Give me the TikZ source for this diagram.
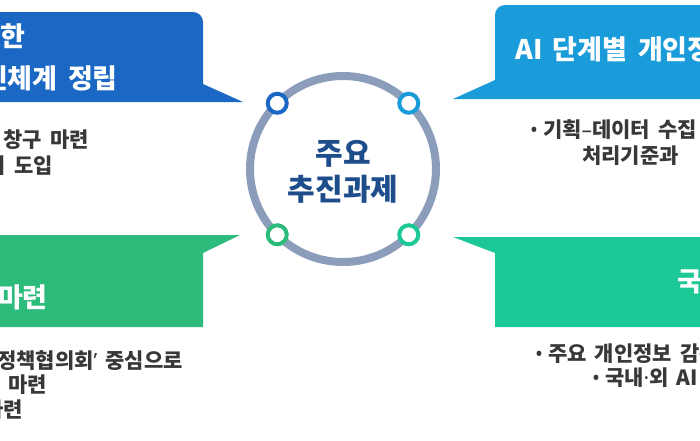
\documentclass[tikz,border=0pt]{standalone}
\usepackage{fontspec}
\newfontfamily\kr[WordSpace=1.3]{Noto Sans CJK KR}
\newfontfamily\krt[WordSpace=1.7]{Noto Sans CJK KR}
\newfontfamily\lat{Noto Sans}
\definecolor{cA}{HTML}{1A68C4}
\definecolor{cB}{HTML}{1A9BDA}
\definecolor{cC}{HTML}{2CBB7A}
\definecolor{cD}{HTML}{1CC996}
\definecolor{ring}{HTML}{8B9DBA}
\definecolor{hubtext}{HTML}{1E4D8C}
\definecolor{body}{HTML}{383838}
\newcommand{\bul}{{\lat\bfseries •}\hspace{5pt}}
\tikzset{
  title/.style={font=\krt\bfseries\fontsize{27}{31}\selectfont, text=white, inner sep=0},
  item/.style={font=\kr\bfseries\fontsize{21}{25}\selectfont, text=body, inner sep=0},
  hubfont/.style={font=\kr\bfseries\fontsize{30}{35}\selectfont, text=hubtext, inner sep=0},
  dot/.style={circle, line width=4, fill=white, minimum size=19, inner sep=0}
}
\begin{document}
\begin{tikzpicture}[x=1pt,y=-1pt]
\useasboundingbox (0,0) rectangle (700,440);
\clip (0,0) rectangle (700,440);
\fill[white] (0,0) rectangle (700,440);
% boxes
\fill[cA] (-5,102) -- (-5,12) -- (193,12) arc[start angle=-90,end angle=0,radius=10] -- (203,84) -- (243,102) -- cycle;
\fill[cB] (705,99) -- (705,5) -- (505,5) arc[start angle=270,end angle=180,radius=10] -- (495,80) -- (453,99) -- cycle;
\fill[cC] (-5,235) -- (240,235) -- (203,253) -- (203,327) -- (-5,327) -- cycle;
\fill[cD] (705,237) -- (453,237) -- (495,253) -- (495,327) -- (705,327) -- cycle;
% hub
\node[circle, draw=ring, line width=8, minimum size=186, inner sep=0, outer sep=0] (hub) at (343,169) {};
\node[hubfont, anchor=base] (h1) at (343,164) {주요};
\node[hubfont, anchor=base] (h2) at (343,200) {추진과제};
\node[dot, draw=cA] (d1) at (hub.135) {};
\node[dot, draw=cB] (d2) at (hub.45) {};
\node[dot, draw=cC] (d3) at (hub.225) {};
\node[dot, draw=cD] (d4) at (hub.315) {};
% top-left
\node[title, anchor=base west] (t1a) at (0,46) {한};
\node[title, anchor=base east] (t1b) at (118,88) {인체계 정립};
\node[item, anchor=base east] (i1a) at (89,147) {창구 마련};
\node[item, anchor=base east] (i1b) at (53,173) {지 도입};
% top-right
\node[title, anchor=base west] (t2) at (515,59) {AI 단계별 개인정보};
\node[item, anchor=base west] (i2a) at (530,137) {\bul 기획{\lat\bfseries –}데이터 수집};
\node[item, anchor=base west] (i2b) at (582,163) {처리기준과};
% bottom-left
\node[title, anchor=base east] (t3) at (48,307) {마련};
\node[item, anchor=base east] (i3a) at (183,368) {정책협의회{\lat\bfseries ’} 중심으로};
\node[item, anchor=base east] (i3b) at (47,392) {기 마련};
\node[item, anchor=base east] (i3c) at (23,417) {마련};
% bottom-right
\node[title, anchor=base west] (t4) at (677,291) {국내};
\node[item, anchor=base west] (i4a) at (535,361) {\bul 주요 개인정보 감독};
\node[item, anchor=base west] (i4b) at (592,385) {\bul 국내{\lat\bfseries ·}외 AI};
\end{tikzpicture}
\end{document}
